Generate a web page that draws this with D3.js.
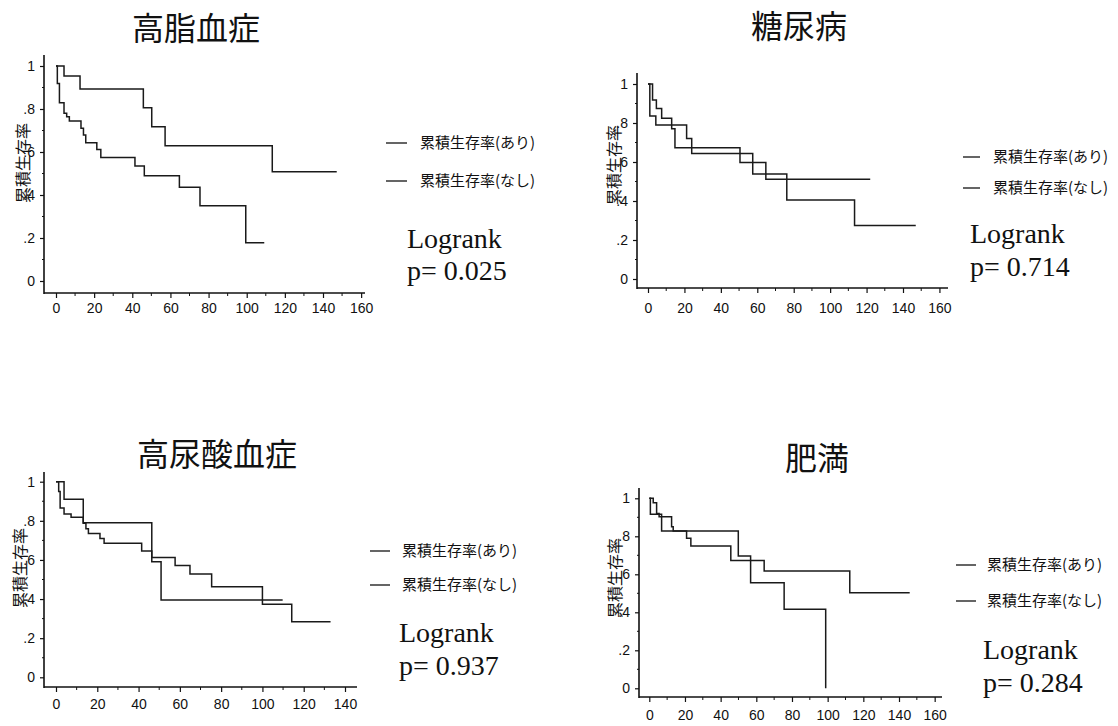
<!DOCTYPE html>
<html>
<head>
<meta charset="utf-8">
<script src="https://cdn.jsdelivr.net/npm/d3@7"></script>
<style>
  body { margin: 0; background: #fff; }
  svg { display: block; }
  .tick text { font-family: "Liberation Sans", Arial, sans-serif; font-size: 14px; fill: #111; }
  .tick line { stroke: #111; stroke-width: 1.2; }
</style>
</head>
<body>
<svg id="chart" width="1118" height="726"></svg>
<script>
// titles / annotation text
const titles = ['高脂血症', '糖尿病', '高尿酸血症', '肥満'];
const pValues = ['0.025', '0.714', '0.937', '0.284'];
const legendLabels = ['累積生存率(あり)', '累積生存率(なし)'];
const yLabel = '累積生存率';

// tick values + labels
const yTicks = [0, 0.2, 0.4, 0.6, 0.8, 1];
const yTickLabels = ['0', '.2', '.4', '.6', '.8', '1'];
const xTicksLong = [0, 20, 40, 60, 80, 100, 120, 140, 160];
const xTicksShort = [0, 20, 40, 60, 80, 100, 120, 140];

// survival steps [time, survival]
const lipidAri  = [[0,1],[4.2,0.953],[12.6,0.893],[45.8,0.806],[50.2,0.718],[57.2,0.629],[113.4,0.508],[147.2,0.508]];
const lipidNashi = [[0,1],[0.7,0.919],[1.8,0.829],[4.2,0.78],[5.6,0.764],[7,0.744],[13.1,0.71],[14.4,0.679],[15.6,0.643],
  [21.4,0.612],[23.5,0.575],[41.4,0.535],[46.3,0.49],[64.7,0.436],[75.5,0.35],[99.5,0.178],[109.2,0.178]];

const dmAri   = [[0,1],[2.5,0.918],[4.6,0.875],[7.5,0.824],[13,0.77],[14.8,0.673],[50.5,0.597],[64.7,0.511],[122,0.511]];
const dmNashi = [[0,1],[1,0.836],[4.3,0.79],[21.2,0.72],[24,0.644],[57.5,0.538],[76.2,0.405],[113.4,0.275],[147,0.275]];

const uaAri   = [[0,1],[3.9,0.91],[13.2,0.79],[46.4,0.591],[50.9,0.395],[109.8,0.395]];
const uaNashi = [[0,1],[1.3,0.95],[2,0.865],[3.9,0.835],[7.3,0.818],[13.2,0.787],[14.5,0.76],[15.7,0.735],[21.3,0.71],
  [23.3,0.685],[41.5,0.646],[46.4,0.612],[57.7,0.571],[64.9,0.528],[75.4,0.463],[100,0.373],[114.2,0.284],[133,0.284]];

const obAri   = [[0,1],[0.6,0.916],[6.9,0.828],[49.9,0.696],[56.8,0.556],[75.6,0.416],[98.9,0]];
const obNashi = [[0,1],[2.2,0.977],[4.1,0.92],[5.5,0.903],[12.5,0.85],[13.4,0.828],[20.9,0.79],[23.3,0.749],
  [45.7,0.672],[64.4,0.617],[112.4,0.503],[146,0.503]];

const series = [[lipidAri, lipidNashi], [dmAri, dmNashi], [uaAri, uaNashi], [obAri, obNashi]];
const xTickSets = [xTicksLong, xTicksLong, xTicksShort, xTicksLong];

// layout of each panel (pixel geometry)
const layout = [
  { ax: 44,  ay: 293, yTop: 55,  xEnd: 365, xr: [56, 323],    yr: [281, 66],     title: [196, 40],
    ylab: [22, 163],  leg: [386, 407, 420, 143, 181], lr: [407, 248, 280], gap: 20 },
  { ax: 637, ay: 288, yTop: 73,  xEnd: 948, xr: [648, 903],   yr: [279, 84],     title: [799, 38],
    ylab: [613, 165], leg: [963, 980, 993, 157, 188], lr: [970, 243, 276], gap: 25 },
  { ax: 44,  ay: 687, yTop: 472, xEnd: 357, xr: [56, 345],    yr: [677.3, 481.7], title: [217, 466],
    ylab: [19, 568],  leg: [370, 390, 402, 551, 585], lr: [399, 642, 675], gap: 22 },
  { ax: 639, ay: 697, yTop: 488, xEnd: 942, xr: [649.3, 899], yr: [688.3, 498.3], title: [817, 470],
    ylab: [614, 578], leg: [956, 976, 987, 565, 601], lr: [983, 659, 692], gap: 23 }
];

const svg = d3.select('#chart');
const INK = '#111';

layout.forEach(function(L, i) {
  const g = svg.append('g');
  const x = d3.scaleLinear().domain([0, 140]).range(L.xr);
  const y = d3.scaleLinear().domain([0, 1]).range(L.yr);

  // title
  g.append('text')
    .attr('x', L.title[0]).attr('y', L.title[1])
    .attr('text-anchor', 'middle')
    .style('font-family', '"Noto Sans CJK JP", sans-serif')
    .style('font-size', '32px')
    .style('fill', INK)
    .text(titles[i]);

  // y axis
  const yAxis = d3.axisLeft(y).tickValues(yTicks)
    .tickFormat(function(d, k) { return yTickLabels[k]; })
    .tickSize(4).tickPadding(5).tickSizeOuter(0);
  const gy = g.append('g').attr('transform', `translate(${L.ax},0)`).call(yAxis);
  gy.select('.domain').remove();
  // minor y ticks
  g.selectAll('.ymin').data(d3.range(0.1, 1, 0.2)).enter().append('line')
    .attr('x1', L.ax - 2).attr('x2', L.ax)
    .attr('y1', function(d) { return y(d); }).attr('y2', function(d) { return y(d); })
    .style('stroke', INK).style('stroke-width', 1);

  // x axis
  const xAxis = d3.axisBottom(x).tickValues(xTickSets[i])
    .tickSize(5).tickPadding(L.gap - 15).tickSizeOuter(0);
  const gx = g.append('g').attr('transform', `translate(0,${L.ay})`).call(xAxis);
  gx.select('.domain').remove();
  const lastTick = d3.max(xTickSets[i]);
  g.selectAll('.xmin').data(d3.range(10, lastTick, 20)).enter().append('line')
    .attr('x1', function(d) { return x(d); }).attr('x2', function(d) { return x(d); })
    .attr('y1', L.ay).attr('y2', L.ay + 3)
    .style('stroke', INK).style('stroke-width', 1);

  // axis lines
  g.append('line').attr('x1', L.ax).attr('x2', L.ax).attr('y1', L.yTop).attr('y2', L.ay + 1)
    .style('stroke', INK).style('stroke-width', 1.6);
  g.append('line').attr('x1', L.ax).attr('x2', L.xEnd).attr('y1', L.ay).attr('y2', L.ay)
    .style('stroke', INK).style('stroke-width', 1.6);

  // y label
  g.append('text')
    .attr('transform', `translate(${L.ylab[0]},${L.ylab[1]}) rotate(-90)`)
    .attr('text-anchor', 'middle')
    .attr('dominant-baseline', 'central')
    .style('font-family', '"Noto Sans CJK JP", sans-serif')
    .style('font-size', '16px')
    .style('fill', INK)
    .text(yLabel);

  // survival curves
  const line = d3.line()
    .x(function(d) { return x(d[0]); })
    .y(function(d) { return y(d[1]); })
    .curve(d3.curveStepAfter);
  g.selectAll('.km').data(series[i]).enter().append('path')
    .attr('d', line)
    .style('fill', 'none')
    .style('stroke', '#1a1a1a')
    .style('stroke-width', 1.5);

  // legend
  legendLabels.forEach(function(lab, k) {
    const ry = L.leg[3 + k];
    g.append('line').attr('x1', L.leg[0]).attr('x2', L.leg[1]).attr('y1', ry).attr('y2', ry)
      .style('stroke', INK).style('stroke-width', 1.3);
    g.append('text').attr('x', L.leg[2]).attr('y', ry + 5)
      .style('font-family', '"Noto Sans CJK JP", sans-serif')
      .style('font-size', '15px')
      .style('fill', INK)
      .text(lab);
  });

  // logrank
  g.append('text').attr('x', L.lr[0]).attr('y', L.lr[1])
    .style('font-family', '"Liberation Serif", "Times New Roman", serif')
    .style('font-size', '28px').style('fill', INK)
    .text('Logrank');
  g.append('text').attr('x', L.lr[0]).attr('y', L.lr[2])
    .style('font-family', '"Liberation Serif", "Times New Roman", serif')
    .style('font-size', '28px').style('fill', INK)
    .text('p= ' + pValues[i]);
});
</script>
</body>
</html>
